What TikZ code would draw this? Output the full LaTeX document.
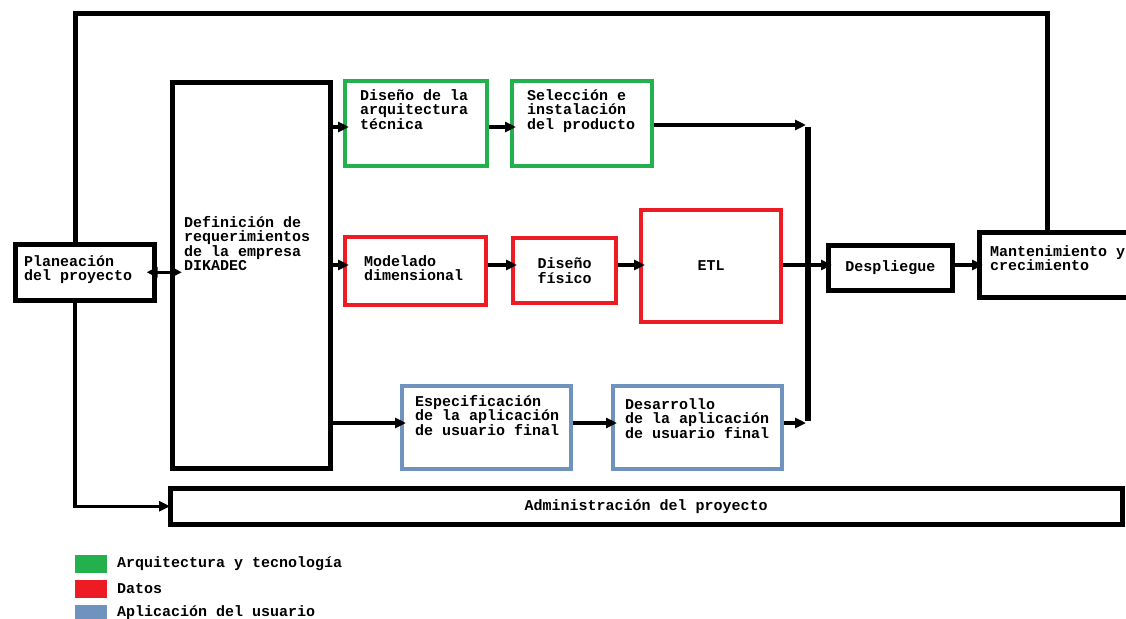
\documentclass[tikz,border=0pt]{standalone}
\usepackage{fontspec}
\setmainfont{Liberation Mono}
\usetikzlibrary{arrows.meta}
\definecolor{cgreen}{RGB}{34,177,76}
\definecolor{cred}{RGB}{237,28,36}
\definecolor{cblue}{RGB}{112,146,190}
\tikzset{
  box/.style={draw=black,line width=4.5pt,fill=white,inner sep=0pt,anchor=north west},
  gbox/.style={box,line width=4pt,draw=cgreen},
  rbox/.style={box,line width=4pt,draw=cred},
  bbox/.style={box,line width=4pt,draw=cblue},
  txt/.style={font=\bfseries\fontsize{15}{14.5}\selectfont,align=left,inner sep=0pt},
  tip/.tip={Triangle[length=11pt,width=10pt]},
  conn/.style={line width=3.5pt,-tip,shorten >=-6pt},
  line/.style={line width=5pt},
  leg/.style={inner sep=0pt,anchor=north west,minimum width=32pt,minimum height=18pt}
}
\begin{document}
\begin{tikzpicture}[x=1pt,y=-1pt]
\useasboundingbox (0,0) rectangle (1126,618);
% boxes
\node[box,minimum width=139pt,minimum height=56pt] (plan) at (13,242) {};
\node[box,minimum width=158pt,minimum height=386pt] (def) at (170,80) {};
\node[gbox,minimum width=142pt,minimum height=85pt] (g1) at (343,79) {};
\node[gbox,minimum width=140pt,minimum height=85pt] (g2) at (510,79) {};
\node[rbox,minimum width=141pt,minimum height=68pt] (r1) at (343,235) {};
\node[rbox,minimum width=103pt,minimum height=65pt] (r2) at (511,236) {};
\node[rbox,minimum width=140pt,minimum height=112pt] (etl) at (639,208) {};
\node[box,minimum width=124pt,minimum height=45pt] (desp) at (826,243) {};
\node[box,minimum width=152pt,minimum height=65pt] (mant) at (977,230) {};
\node[bbox,minimum width=169pt,minimum height=83pt] (b1) at (400,384) {};
\node[bbox,minimum width=169pt,minimum height=83pt] (b2) at (611,384) {};
\node[box,minimum width=952pt,minimum height=36pt] (adm) at (168,486) {};
% texts
\node[txt,anchor=north west] (tplan) at (24,255) {Planeación\\del proyecto};
\node[txt,anchor=north west] (tdef) at (184,216) {Definición de\\requerimientos\\de la empresa\\DIKADEC};
\node[txt,anchor=north west] (tg1) at (360,89) {Diseño de la\\arquitectura\\técnica};
\node[txt,anchor=north west] (tg2) at (527,89) {Selección e\\instalación\\del producto};
\node[txt,anchor=north west] (tr1) at (364,255) {Modelado\\dimensional};
\node[txt,align=center] (tr2) at (r2.center) {Diseño\\físico};
\node[txt] (tetl) at (etl.center) {ETL};
\node[txt] (tdesp) at (desp.center) {Despliegue};
\node[txt,anchor=north west] (tmant) at (990,245) {Mantenimiento y\\crecimiento};
\node[txt,anchor=north west] (tb1) at (415,395) {Especificación\\de la aplicación\\de usuario final};
\node[txt,anchor=north west] (tb2) at (625,398) {Desarrollo\\de la aplicación\\de usuario final};
\node[txt] (tadm) at (adm.center) {Administración del proyecto};
% coordinates
\coordinate (topL) at (75,14);
\coordinate (topR) at (1047,14);
\coordinate (jt) at (808,125);
\coordinate (jb) at (808,423);
% loops
\draw[line] (plan.north -| topL) -- (topL) -- (topR) -- (mant.north -| topR);
\draw[conn,shorten >=-2pt] (plan.south -| topL) |- (adm.west);
\draw[line width=3.5pt,tip-tip,shorten >=-12pt,shorten <=-10pt] (plan.east) -- (def.west |- plan.east);
% row green
\draw[conn] (def.east |- 0,127) -- (g1.west |- 0,127);
\draw[conn] (g1.east |- 0,127) -- (g2.west |- 0,127);
\draw[conn,shorten >=0pt] (g2.east |- jt) -- ([xshift=-2pt]jt);
% row red
\draw[conn] (def.east |- 0,265) -- (r1.west |- 0,265);
\draw[conn] (r1.east |- 0,265) -- (r2.west |- 0,265);
\draw[conn] (r2.east |- 0,265) -- (etl.west |- 0,265);
\draw[conn] (etl.east |- 0,265) -- (desp.west |- 0,265);
\draw[conn] (desp.east |- 0,265) -- (mant.west |- 0,265);
% row blue
\draw[conn] (def.east |- 0,423) -- (b1.west |- 0,423);
\draw[conn] (b1.east |- 0,423) -- (b2.west |- 0,423);
\draw[conn,shorten >=0pt] (b2.east |- jb) -- ([xshift=-2pt]jb);
% vertical junction
\draw[line width=5.5pt] ([yshift=-2pt]jt) -- ([yshift=2pt]jb);
% legend
\node[leg,fill=cgreen] (lg) at (75,555) {};
\node[leg,fill=cred] (lr) at (75,580) {};
\node[leg,fill=cblue] (lb) at (75,605) {};
\node[txt,anchor=west] (tlg) at (117,564) {Arquitectura y tecnología};
\node[txt,anchor=west] (tlr) at (117,589) {Datos};
\node[txt,anchor=west] (tlb) at (117,613) {Aplicación del usuario};
\end{tikzpicture}
\end{document}
